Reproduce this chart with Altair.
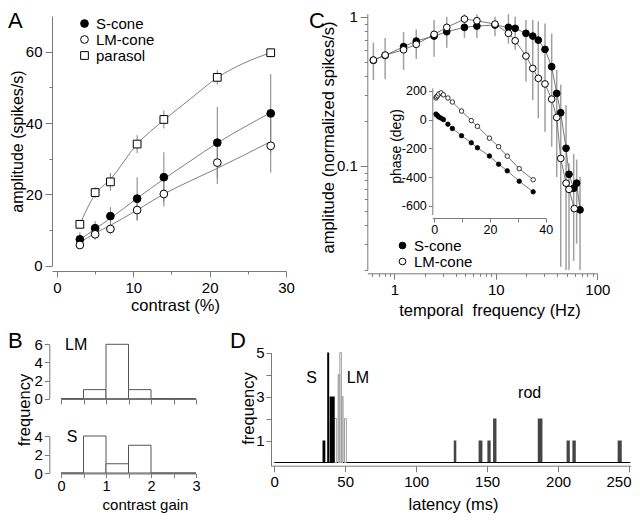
import altair as alt
import pandas as pd

FONT = "Liberation Sans"

# ---------------- data ----------------
# Panel A: response amplitude vs contrast
a_contrast = [3, 5, 7, 10.5, 14, 21, 28]
a_scone = [7.4, 10.5, 13.9, 18.8, 24.8, 34.5, 42.7]
a_scone_err = [2.0, 2.0, 2.5, 6.0, 7.0, 10.0, 11.0]
a_lmcone = [5.8, 8.8, 10.3, 15.6, 20.1, 28.9, 33.6]
a_lmcone_err = [1.0, 1.5, 1.5, 3.0, 3.5, 6.0, 7.5]
a_parasol = [11.6, 20.5, 23.5, 34.1, 41.0, 52.8, 59.7]
a_parasol_err = [1.0, 1.5, 2.5, 2.5, 2.5, 2.0, 1.0]
a_fit_x = [3, 5, 7, 10.5, 14, 17.5, 21, 24.5, 28]
a_scone_fit = [7.3, 10.3, 13.3, 18.9, 24.3, 29.4, 34.4, 38.8, 42.9]
a_lmcone_fit = [6.5, 9.1, 11.3, 15.6, 20.1, 23.8, 27.3, 31.0, 34.8]
a_parasol_fit = [11.6, 20.0, 24.2, 34.1, 40.8, 46.8, 52.7, 56.8, 59.7]
a_series = ["S-cone", "LM-cone", "parasol"]

# Panel B: contrast gain histograms
b_bin_lo = [0.0, 0.5, 1.0, 1.5, 2.0, 2.5]
b_bin_hi = [0.5, 1.0, 1.5, 2.0, 2.5, 3.0]
b_lm_counts = [0, 1, 6, 1, 0, 0]
b_s_counts = [0, 4, 1, 3, 0, 0]

# Panel C: temporal frequency tuning
c_freq_s = [0.62, 0.81, 1.23, 1.64, 2.46, 3.28, 4.9, 6.5, 9.8, 13.3, 15.5, 19.8,
            23.1, 26.2, 30.5, 35.5, 39.8, 43.6, 49.2, 52.6, 58.5, 62.6, 67.6]
c_amp_s = [0.51, 0.55, 0.63, 0.687, 0.742, 0.793, 0.849, 0.866, 0.88, 0.849, 0.836, 0.774,
           0.742, 0.697, 0.604, 0.462, 0.306, 0.227, 0.131, 0.0877, 0.0706, 0.0764, 0.0506]
c_freq_lm = [0.62, 0.81, 1.23, 1.64, 2.46, 3.28, 4.9, 6.5, 9.8, 13.3, 15.5, 19.8,
             23.1, 26.2, 30.5, 35.5, 39.8, 43.6, 49.2, 52.6, 59.3]
c_amp_lm = [0.512, 0.553, 0.60, 0.653, 0.762, 0.849, 0.965, 0.94, 0.893, 0.774, 0.69, 0.545,
            0.45, 0.386, 0.354, 0.28, 0.211, 0.112, 0.0764, 0.0694, 0.0516]
c_err_freq = [0.62, 0.81, 1.23, 1.64, 2.46, 3.28, 4.9, 6.5, 9.8, 13.3, 15.5, 19.8,
              23.1, 26.2, 30.5, 35.5, 39.8, 43.6, 49.2, 52.6, 58.5, 62.6, 67.6]
c_err_lo = [0.376, 0.38, 0.44, 0.52, 0.54, 0.62, 0.72, 0.72, 0.74, 0.66, 0.6, 0.367,
            0.276, 0.208, 0.169, 0.134, 0.084, 0.021, 0.02, 0.02, 0.023, 0.03, 0.02]
c_err_hi = [0.67, 0.72, 0.79, 0.82, 0.95, 1.0, 1.04, 1.04, 1.0, 1.04, 1.0, 0.95,
            0.95, 0.93, 0.9, 0.77, 0.44, 0.35, 0.255, 0.104, 0.12, 0.11, 0.084]
c_series = ["S-cone", "LM-cone"]

# Panel C inset: response phase
in_freq = [0.62, 0.81, 1.23, 1.64, 2.46, 3.28, 4.9, 6.5, 9.8, 13.3, 15.5, 19.8,
           23.1, 26.2, 30.5, 35.5]
in_phase_s = [38, 33, 26, 18, 10, 0, -32, -62, -112, -161, -196, -253, -310, -356, -428, -502]
in_phase_lm = [150, 158, 166, 178, 186, 172, 150, 122, 59, -7, -47, -129, -188, -254, -341, -418]

# Panel D: latency histograms
d_s_lo = [34.0, 37.3, 39.0]
d_s_hi = [36.0, 38.7, 42.6]
d_s_n = [1, 5, 3]
d_lm_open_lo = [42.5, 46.2, 49.5]
d_lm_open_hi = [44.0, 47.3, 50.8]
d_lm_open_n = [2, 5, 2]
d_lm_gray_lo = [45.0, 47.3]
d_lm_gray_hi = [46.2, 48.5]
d_lm_gray_n = [4, 3]
d_rod_lo = [126.5, 144.0, 150.2, 154.2, 185.7, 206.0, 210.1, 242.0]
d_rod_hi = [128.3, 146.7, 152.5, 156.6, 189.0, 208.3, 212.5, 244.9]
d_rod_n = [1, 1, 1, 2, 2, 1, 1, 1]

# ---------------- layout helpers ----------------
W, H = 624, 505
M = 8


def px(v):
    return v - M


def off_bottom(ref_y):
    return -(H - px(ref_y))


def off_left(ref_x):
    return -px(ref_x)


def cond(test, big, small):
    return {"condition": {"test": test, "value": big}, "value": small}


def lab(test=None):
    if test is None:
        return "'' + datum.value"
    return test + " ? '' + datum.value : ''"


def axis(**kw):
    base = dict(grid=False, domainColor="#7a7a7a", tickColor="#7a7a7a",
                labelColor="black", titleColor="black", labelFont=FONT, titleFont=FONT,
                titleFontWeight="normal", labelFontSize=15, titleFontSize=16.5,
                domainWidth=1, tickWidth=1, labelPadding=3, labelFlush=False,
                labelOverlap=False, titleBaseline="middle", titleAlign="center",
                labelExpr=lab())
    base.update(kw)
    return alt.Axis(**base)


def legend(lx, ly, size, rp):
    return alt.Legend(orient="none", legendX=lx, legendY=ly, title=None,
                      labelFont=FONT, labelFontSize=15, labelColor="black", symbolSize=size,
                      symbolStrokeWidth=1, rowPadding=rp, labelOffset=4, padding=0)


# ---------------- Panel A ----------------
dfA = pd.DataFrame({
    "contrast": a_contrast * 3,
    "amp": a_scone + a_lmcone + a_parasol,
    "err": a_scone_err + a_lmcone_err + a_parasol_err,
    "series": ["S-cone"] * 7 + ["LM-cone"] * 7 + ["parasol"] * 7,
})
dfA["lo"] = dfA["amp"] - dfA["err"]
dfA["hi"] = dfA["amp"] + dfA["err"]
dfAfit = pd.DataFrame({
    "contrast": a_fit_x * 3,
    "amp": a_scone_fit + a_lmcone_fit + a_parasol_fit,
    "series": ["S-cone"] * 9 + ["LM-cone"] * 9 + ["parasol"] * 9,
})

sA_x = alt.Scale(domain=[-0.65, 30], range=[px(52), px(286)], nice=False, zero=False)
sA_y = alt.Scale(domain=[0, 70], range=[px(265.7), px(16)], nice=False, zero=False)
axA_x = axis(orient="bottom", offset=off_bottom(271), values=[0, 5, 10, 15, 20, 25, 30],
             labelExpr=lab("datum.value % 10 == 0"),
             tickSize=cond("datum.value % 10 == 0", 6, 3),
             title="contrast (%)", titleX=px(175), titleY=34)
axA_y = axis(orient="left", offset=off_left(52), values=[0, 10, 20, 30, 40, 50, 60],
             labelExpr=lab("datum.value % 20 == 0"),
             tickSize=cond("datum.value % 20 == 0", 7, 3),
             title="amplitude (spikes/s)", titleFontSize=16, titleX=17 - 52, titleY=px(141),
             titleAngle=270)
legA = legend(px(77), px(16), 60, -0.7)

errA = alt.Chart(dfA).mark_rule(color="#808080", strokeWidth=1).encode(
    x=alt.X("contrast:Q", scale=sA_x, axis=axA_x),
    y=alt.Y("lo:Q", scale=sA_y, axis=axA_y),
    y2="hi:Q",
)
fitA = alt.Chart(dfAfit).mark_line(color="#808080", strokeWidth=1, interpolate="monotone").encode(
    x=alt.X("contrast:Q", scale=sA_x),
    y=alt.Y("amp:Q", scale=sA_y),
    detail="series:N",
)
ptsA = alt.Chart(dfA).mark_point(filled=True, size=60, strokeWidth=1, opacity=1).encode(
    x=alt.X("contrast:Q", scale=sA_x),
    y=alt.Y("amp:Q", scale=sA_y),
    shape=alt.Shape("series:N", scale=alt.Scale(domain=a_series, range=["circle", "circle", "square"]), legend=legA),
    fill=alt.Fill("series:N", scale=alt.Scale(domain=a_series, range=["black", "white", "white"]), legend=legA),
    stroke=alt.Stroke("series:N", scale=alt.Scale(domain=a_series, range=["black", "black", "black"]), legend=legA),
)
panelA = alt.layer(errA, fitA, ptsA)

# ---------------- Panel B ----------------
dfBlm = pd.DataFrame({"lo": b_bin_lo, "hi": b_bin_hi, "n": b_lm_counts})
dfBs = pd.DataFrame({"lo": b_bin_lo, "hi": b_bin_hi, "n": b_s_counts})
sB_x = alt.Scale(domain=[0, 3], range=[px(61), px(196)], nice=False, zero=False)
sBlm_y = alt.Scale(domain=[0, 6], range=[px(398.7), px(344.3)], nice=False, zero=False)
sBs_y = alt.Scale(domain=[0, 4], range=[px(473), px(436)], nice=False, zero=False)

axBlm_x = axis(orient="bottom", offset=off_bottom(399), values=[0, 0.5, 1, 1.5, 2, 2.5, 3],
               labels=False, tickSize=5, title=None)
axBlm_y = axis(orient="left", offset=off_left(49.3), values=[0, 2, 4, 6], tickSize=5,
               labelPadding=2, title="frequency", titleX=24 - 49.3, titleY=px(409.5), titleAngle=270)
axBs_x = axis(orient="bottom", offset=off_bottom(473.5), values=[0, 0.5, 1, 1.5, 2, 2.5, 3],
              labelExpr=lab("datum.value % 1 == 0"), tickSize=4, labelPadding=2,
              labelFontSize=14.5,
              title="contrast gain", titleFontSize=15, titleX=px(145), titleY=31)
axBs_y = axis(orient="left", offset=off_left(49.3), values=[0, 2, 4], tickSize=5,
              labelPadding=2, title=None)

barsBlm = alt.Chart(dfBlm).mark_rect(fill="white", stroke="#555555", strokeWidth=1).encode(
    x=alt.X("lo:Q", scale=sB_x, axis=axBlm_x), x2="hi:Q",
    y=alt.Y("n:Q", scale=sBlm_y, axis=axBlm_y), y2=alt.datum(0),
)
txtBlm = alt.Chart(pd.DataFrame({"t": ["LM"]})).mark_text(
    font=FONT, fontSize=16, align="left", baseline="middle", color="black").encode(
    x=alt.datum(0.09), y=alt.datum(5.9), text="t:N")
panelBlm = alt.layer(barsBlm, txtBlm)

barsBs = alt.Chart(dfBs).mark_rect(fill="white", stroke="#555555", strokeWidth=1).encode(
    x=alt.X("lo:Q", scale=sB_x, axis=axBs_x), x2="hi:Q",
    y=alt.Y("n:Q", scale=sBs_y, axis=axBs_y), y2=alt.datum(0),
)
txtBs = alt.Chart(pd.DataFrame({"t": ["S"]})).mark_text(
    font=FONT, fontSize=16, align="left", baseline="middle", color="black").encode(
    x=alt.datum(0.13), y=alt.datum(3.9), text="t:N")
panelBs = alt.layer(barsBs, txtBs)

# ---------------- Panel C ----------------
dfC = pd.DataFrame({
    "freq": c_freq_s + c_freq_lm,
    "amp": c_amp_s + c_amp_lm,
    "series": ["S-cone"] * len(c_freq_s) + ["LM-cone"] * len(c_freq_lm),
    "order": list(range(len(c_freq_s))) + list(range(len(c_freq_lm))),
    "layer": [0] * len(c_freq_s) + [1] * len(c_freq_lm),
})
dfCerr = pd.DataFrame({"freq": c_err_freq, "lo": c_err_lo, "hi": c_err_hi})

sC_x = alt.Scale(type="log", domain=[0.54, 100], range=[px(367.3), px(597.3)], nice=False)
sC_y = alt.Scale(type="log", domain=[0.02, 1.05], range=[px(269.9), px(13.6)], nice=False)
decade = "abs(log(datum.value)/LN10 - round(log(datum.value)/LN10)) < 1e-6"
cx_vals = [0.6, 0.7, 0.8, 0.9] + [1, 2, 3, 4, 5, 6, 7, 8, 9] + [10, 20, 30, 40, 50, 60, 70, 80, 90, 100]
cy_vals = [0.02, 0.03, 0.04, 0.05, 0.06, 0.07, 0.08, 0.09, 0.1, 0.2, 0.3, 0.4, 0.5, 0.6, 0.7, 0.8, 0.9, 1]
axC_x = axis(orient="bottom", offset=off_bottom(273.3), values=cx_vals,
             labelExpr=lab(decade), tickSize=cond(decade, 6, 3),
             title="temporal\u00a0 frequency (Hz)", titleX=px(489.5), titleY=37)
axC_y = axis(orient="left", offset=off_left(367.3), values=cy_vals,
             labelExpr=lab(decade), tickSize=cond(decade, 7, 3),
             title="amplitude (normalized spikes/s)", titleX=328 - 367.3, titleY=px(137),
             titleAngle=270)
legC = legend(px(395), px(238), 45, -2)

errC = alt.Chart(dfCerr).mark_rule(color="#a0a0a0", strokeWidth=1.5).encode(
    x=alt.X("freq:Q", scale=sC_x, axis=axC_x),
    y=alt.Y("lo:Q", scale=sC_y, axis=axC_y),
    y2="hi:Q",
)
lineC = alt.Chart(dfC).mark_line(color="#555555", strokeWidth=0.8).encode(
    x=alt.X("freq:Q", scale=sC_x),
    y=alt.Y("amp:Q", scale=sC_y),
    detail="series:N", order="order:Q",
)
ptsC = alt.Chart(dfC).mark_point(filled=True, size=45, strokeWidth=1, opacity=1).encode(
    x=alt.X("freq:Q", scale=sC_x),
    y=alt.Y("amp:Q", scale=sC_y),
    shape=alt.Shape("series:N", scale=alt.Scale(domain=c_series, range=["circle", "circle"]), legend=legC),
    fill=alt.Fill("series:N", scale=alt.Scale(domain=c_series, range=["black", "white"]), legend=legC),
    stroke=alt.Stroke("series:N", scale=alt.Scale(domain=c_series, range=["black", "black"]), legend=legC),
    order="layer:Q",
)
panelC = alt.layer(errC, lineC, ptsC)

# ---------------- Panel C inset ----------------
dfIn = pd.DataFrame({
    "freq": in_freq * 2,
    "phase": in_phase_s + in_phase_lm,
    "series": ["S-cone"] * len(in_freq) + ["LM-cone"] * len(in_freq),
})
sI_x = alt.Scale(domain=[-0.7, 40], range=[px(432.3), px(545.7)], nice=False, zero=False)
sI_y = alt.Scale(domain=[-660, 220], range=[px(214.6), px(87.9)], nice=False, zero=False)
axI_x = axis(orient="bottom", offset=off_bottom(218), values=[0, 10, 20, 30, 40],
             labelExpr=lab("datum.value % 20 == 0"), tickSize=4,
             labelPadding=1, labelFontSize=12.5, title=None)
axI_y = axis(orient="left", offset=off_left(432.3), values=[-600, -400, -200, 0, 200],
             tickSize=4, labelPadding=2, labelFontSize=12.5,
             title="phase (deg)", titleFontSize=14, titleX=396 - 432.3, titleY=px(146),
             titleAngle=270)
lineI = alt.Chart(dfIn).mark_line(color="#555555", strokeWidth=0.8).encode(
    x=alt.X("freq:Q", scale=sI_x, axis=axI_x),
    y=alt.Y("phase:Q", scale=sI_y, axis=axI_y),
    detail="series:N",
)
ptsI = alt.Chart(dfIn).mark_point(filled=True, size=20, stroke="black", strokeWidth=0.8, opacity=1).encode(
    x=alt.X("freq:Q", scale=sI_x),
    y=alt.Y("phase:Q", scale=sI_y),
    fill=alt.Fill("series:N", scale=alt.Scale(domain=c_series, range=["black", "white"]), legend=None),
)
panelI = alt.layer(lineI, ptsI)

# ---------------- Panel D ----------------
dfDs = pd.DataFrame({"lo": d_s_lo, "hi": d_s_hi, "n": d_s_n})
dfDlo = pd.DataFrame({"lo": d_lm_open_lo, "hi": d_lm_open_hi, "n": d_lm_open_n})
dfDlg = pd.DataFrame({"lo": d_lm_gray_lo, "hi": d_lm_gray_hi, "n": d_lm_gray_n})
dfDr = pd.DataFrame({"lo": d_rod_lo, "hi": d_rod_hi, "n": d_rod_n})
sD_x = alt.Scale(domain=[-2.3, 251.2], range=[px(271), px(630.7)], nice=False, zero=False)
sD_y = alt.Scale(domain=[-0.15, 5], range=[px(465.8), px(352.5)], nice=False, zero=False)
axD_x = axis(orient="bottom", offset=off_bottom(465.7), values=[0, 50, 100, 150, 200, 250],
             tickSize=6, labelPadding=3,
             labelAlign=cond("datum.value == 250", "right", "center"),
             labelOffset=cond("datum.value == 250", 2, 0),
             title="latency (ms)", titleX=px(453), titleY=38.5)
axD_y = axis(orient="left", offset=off_left(271), values=[1, 2, 3, 4, 5],
             labelExpr=lab("datum.value % 2 == 1"), tickSize=5, labelPadding=2,
             title="frequency", titleX=248 - 271, titleY=px(408), titleAngle=270)


def bars(df, first=False, **mk):
    if first:
        ex = dict(x=alt.X("lo:Q", scale=sD_x, axis=axD_x), y=alt.Y("n:Q", scale=sD_y, axis=axD_y))
    else:
        ex = dict(x=alt.X("lo:Q", scale=sD_x), y=alt.Y("n:Q", scale=sD_y))
    return alt.Chart(df).mark_rect(**mk).encode(x2="hi:Q", y2=alt.datum(0), **ex)


barsDr = bars(dfDr, first=True, fill="#454545")
baseD = alt.Chart(pd.DataFrame({"t": ["base"]})).mark_rule(color="black", strokeWidth=1).encode(
    x=alt.datum(0), x2=alt.datum(251), y=alt.datum(0),
)
barsDlo = bars(dfDlo, fill="white", stroke="#a0a0a0", strokeWidth=1)
barsDlg = bars(dfDlg, fill="#c0c0c0", stroke="#a0a0a0", strokeWidth=1)
barsDs = bars(dfDs, fill="black")


def label(text, xv, yv):
    return alt.Chart(pd.DataFrame({"t": [text]})).mark_text(
        font=FONT, fontSize=16, align="center", baseline="middle", color="black").encode(
        x=alt.datum(xv), y=alt.datum(yv), text="t:N")


panelD = alt.layer(barsDr, baseD, barsDlo, barsDlg, barsDs,
                   label("S", 26.3, 3.84), label("LM", 59, 3.84), label("rod", 180, 3.16))

# ---------------- panel letters ----------------


def letter(t, x, y):
    return alt.Chart(pd.DataFrame({"t": [t]})).mark_text(
        font=FONT, fontSize=22, align="left", baseline="top", color="black").encode(
        x=alt.value(x), y=alt.value(y), text="t:N")


letters = alt.layer(letter("A", 0, 3), letter("B", 0, px(331)), letter("C", px(309), 3),
                    letter("D", px(230), px(331)))

chart = alt.layer(panelA, panelBlm, panelBs, panelC, panelI, panelD, letters).resolve_scale(
    x="independent", y="independent", fill="independent", shape="independent",
    stroke="independent"
).resolve_legend(fill="independent", shape="independent", stroke="independent").properties(
    width=W, height=H, autosize=alt.AutoSizeParams(type="none"), padding=0
).configure_view(strokeWidth=0)

chart.save("out.html", embed_options={"renderer": "svg", "actions": False})
